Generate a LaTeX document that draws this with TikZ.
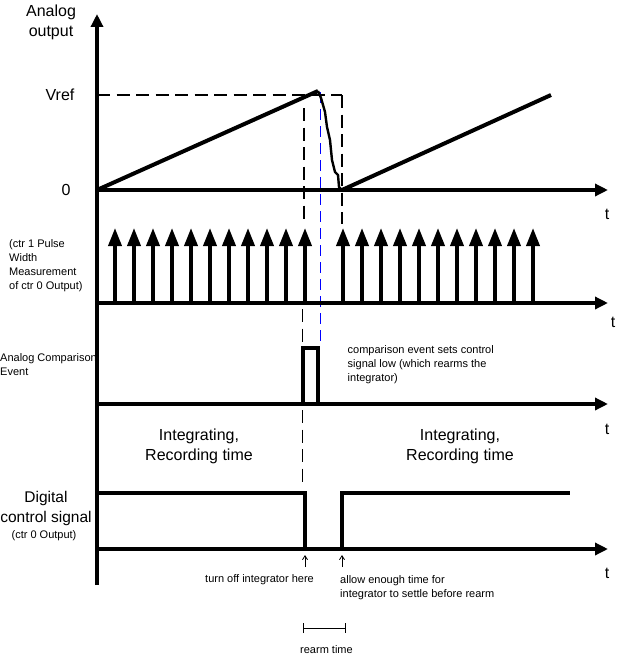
\documentclass[tikz,border=0pt]{standalone}
\usepackage{fontspec}
\setmainfont{Liberation Sans}
\usetikzlibrary{arrows.meta}
\tikzset{
	axisline/.style={line width=4pt,-{Triangle[length=13pt,width=12pt]}},
	sigline/.style={line width=4pt,line join=miter},
	pulsearrow/.style={line width=3.6pt,-{Triangle[length=18pt,width=13pt]}},
	guide/.style={line width=1.3pt,dash pattern=on 13pt off 6.5pt},
	bluedash/.style={blue,line width=1.2pt,dash pattern=on 11pt off 6pt},
	biglabel/.style={font=\fontsize{16}{20}\selectfont,align=center,inner sep=0pt},
	smalllabel/.style={font=\fontsize{11}{14}\selectfont,align=left,inner sep=0pt}
}
\begin{document}
\begin{tikzpicture}[x=1pt,y=-1pt]
	\useasboundingbox (0,0) rectangle (617,669);
	% axes
	\coordinate (origin) at (97,585);
	\coordinate (top) at (97,14);
	\foreach \name/\yy in {a/190,b/303,c/404,d/549} {
		\coordinate (\name start) at (97,\yy);
		\coordinate (\name end) at (608,\yy);
	}
	% guides
	\coordinate (vrefleft) at (97,95);
	\coordinate (vrefright) at (342,95);
	\coordinate (fallend) at (342,190);
	\coordinate (guidec) at (342,224);
	\coordinate (guidea) at (304,108);
	\coordinate (guideb) at (304,224);
	\coordinate (guided) at (302.5,309);
	\coordinate (guidee) at (302.5,347);
	\coordinate (guidef) at (302.5,410);
	\coordinate (guideg) at (302.5,482);
	\coordinate (bluetop) at (320.5,92);
	\coordinate (bluebot) at (320.5,347);
	\draw[guide] (vrefleft) -- (vrefright);
	\draw[guide] (vrefright) -- (guidec);
	\draw[guide] (guidea) -- (guideb);
	\draw[guide] (guided) -- (guidee);
	\draw[guide] (guidef) -- (guideg);
	\draw[bluedash] (bluetop) -- (bluebot);
	\draw[axisline] (origin) -- (top);
	\foreach \name in {a,b,c,d} {
		\draw[axisline] (\name start) -- (\name end);
	}
	% analog output
	\coordinate (peak) at (318,91);
	\coordinate (rampend) at (551,95);
	\draw[sigline] (astart) -- (peak);
	\draw[line width=2.4pt] (peak) -- (321,98) -- (325,112) -- (327,127) -- (330,140)
		-- (332,160) -- (335,172) -- (338,175) -- (339,187) -- (fallend);
	\draw[sigline] (fallend) -- (rampend);
	% pulses
	\foreach \xx in {115,134,...,305,343,362,...,533} {
		\coordinate (tip\xx) at (\xx,228);
		\coordinate (foot\xx) at (\xx,303);
		\draw[pulsearrow] (foot\xx) -- (tip\xx);
	}
	% comparison event
	\coordinate (compa) at (303,404);
	\coordinate (compb) at (303,348);
	\coordinate (compc) at (318,348);
	\coordinate (compd) at (318,404);
	\draw[sigline] (compa) -- (compb) -- (compc) -- (compd);
	% control signal
	\coordinate (ctla) at (97,492.5);
	\coordinate (ctlb) at (304.5,492.5);
	\coordinate (ctlc) at (304.5,549);
	\coordinate (ctld) at (342,549);
	\coordinate (ctle) at (342,492.5);
	\coordinate (ctlf) at (570,492.5);
	\draw[sigline] (ctla) -- (ctlb) -- (ctlc);
	\draw[sigline] (ctld) -- (ctle) -- (ctlf);
	% small arrows
	\coordinate (offfoot) at (305,567);
	\coordinate (offtip) at (305,555);
	\coordinate (allowfoot) at (342,567);
	\coordinate (allowtip) at (342,555);
	\draw[line width=0.8pt,-{Straight Barb[length=4pt,width=5pt]}] (offfoot) -- (offtip);
	\draw[line width=0.8pt,-{Straight Barb[length=4pt,width=5pt]}] (allowfoot) -- (allowtip);
	% rearm time
	\coordinate (rearma) at (303,628);
	\coordinate (rearmb) at (346,628);
	\draw[line width=0.8pt,{Bar[width=10pt]}-{Bar[width=10pt]}] (rearma) -- (rearmb);
	% labels
	\node[biglabel] (analoglabel) at (51,22) {Analog\\output};
	\node[biglabel] (vreflabel) at (60,95) {Vref};
	\node[biglabel] (zerolabel) at (66,190) {0};
	\node[biglabel] (ta) at (607,214) {t};
	\node[biglabel] (tb) at (613,322) {t};
	\node[biglabel] (tc) at (607,429) {t};
	\node[biglabel] (td) at (607,573) {t};
	\node[biglabel] (intleft) at (199,446) {Integrating,\\Recording time};
	\node[biglabel] (intright) at (460,446) {Integrating,\\Recording time};
	\node[biglabel,font=\fontsize{15.5}{20}\selectfont] (digital) at (46,508) {Digital\\control signal};
	\node[smalllabel,anchor=north] (ctlzero) at (44,530) {(ctr 0 Output)};
	\node[smalllabel,anchor=north west] (ctrone) at (9,239.5) {(ctr 1 Pulse\\Width\\Measurement\\of ctr 0 Output)};
	\node[smalllabel,anchor=north west] (comparison) at (0,353) {Analog Comparison\\Event};
	\node[smalllabel,anchor=north west] (eventnote) at (347.5,345) {comparison event sets control\\signal low (which rearms the\\integrator)};
	\node[smalllabel,anchor=north west] (offnote) at (205,574) {turn off integrator here};
	\node[smalllabel,anchor=north west] (allownote) at (340,575) {allow enough time for\\integrator to settle before rearm};
	\node[smalllabel,anchor=north west] (rearmnote) at (300,645) {rearm time};
\end{tikzpicture}
\end{document}
